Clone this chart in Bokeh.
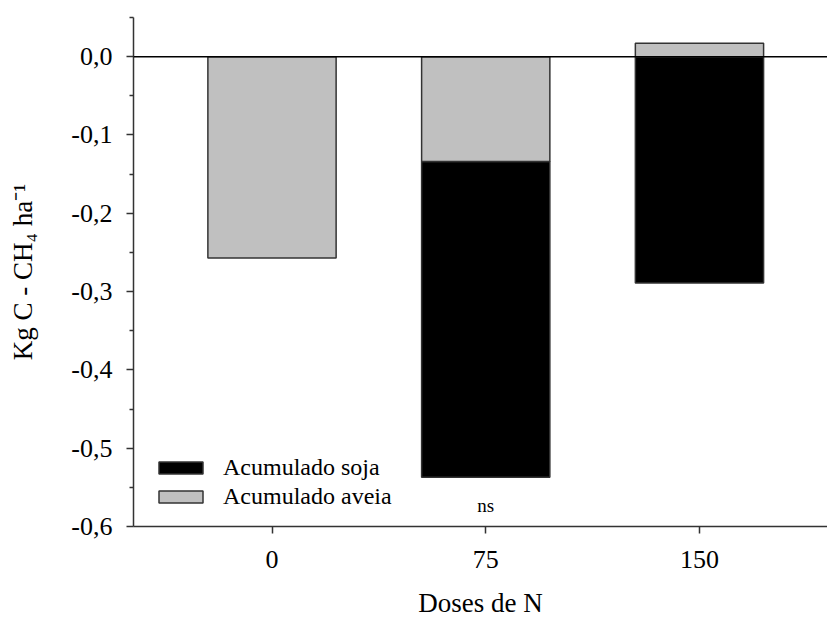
import numpy as np
from bokeh.plotting import figure
from bokeh.models import (ColumnDataSource, FixedTicker, Span, Legend, LegendItem)
from bokeh.core.properties import value
from bokeh.embed import file_html
from bokeh.resources import INLINE

# ---- data ----
doses = ["0", "75", "150"]
aveia = [-0.257, -0.134, 0.017]   # Acumulado aveia
soja = [0.0, -0.403, -0.289]      # Acumulado soja
y_ticks = [-0.6, -0.5, -0.4, -0.3, -0.2, -0.1, 0.0]
y_tick_labels = ["-0,6", "-0,5", "-0,4", "-0,3", "-0,2", "-0,1", "0,0"]
y_minor = [-0.55, -0.45, -0.35, -0.25, -0.15, -0.05, 0.05]
note_text = "ns"

FONT = "Liberation Serif"
xs = list(range(len(doses)))

# stacking (positive and negative separately; aveia first, then soja)
av_top, av_bot, so_top, so_bot, av_x, so_x = [], [], [], [], [], []
for i, (a, s) in enumerate(zip(aveia, soja)):
    pos, neg = 0.0, 0.0
    if a != 0:
        if a < 0:
            av_top.append(neg); av_bot.append(neg + a); neg += a
        else:
            av_bot.append(pos); av_top.append(pos + a); pos += a
        av_x.append(i)
    if s != 0:
        if s < 0:
            so_top.append(neg); so_bot.append(neg + s); neg += s
        else:
            so_bot.append(pos); so_top.append(pos + s); pos += s
        so_x.append(i)

p = figure(width=827, height=621, x_range=(-0.648, 2.599), y_range=(-0.6, 0.05),
           toolbar_location=None, output_backend="svg",
           min_border_left=133, min_border_right=0, min_border_top=17, min_border_bottom=95)
p.outline_line_color = None
p.xgrid.visible = False
p.ygrid.visible = False
p.background_fill_color = "white"

src_so = ColumnDataSource(dict(x=so_x, top=so_top, bottom=so_bot))
src_av = ColumnDataSource(dict(x=av_x, top=av_top, bottom=av_bot))
r_so = p.vbar(x="x", top="top", bottom="bottom", width=0.6, source=src_so,
              fill_color="black", line_color="#333333", line_width=1.5)
r_av = p.vbar(x="x", top="top", bottom="bottom", width=0.6, source=src_av,
              fill_color="#c0c0c0", line_color="#333333", line_width=1.5)

p.add_layout(Span(location=0, dimension="width", line_color="black", line_width=1.5))

# ns annotation
p.text(x=[1], y=[-0.573], text=[note_text], text_font=value(FONT), text_font_size="19px",
       text_align="center", text_baseline="middle", text_color="black")

# axes
xa = p.xaxis[0]
xa.ticker = FixedTicker(ticks=xs)
xa.major_label_overrides = {i: d for i, d in enumerate(doses)}
xa.minor_tick_line_color = None
xa.major_tick_in = 0
xa.major_tick_out = 7
xa.axis_line_color = "#333333"
xa.axis_line_width = 1.5
xa.major_tick_line_color = "#333333"
xa.major_tick_line_width = 1.5
xa.major_label_text_font = FONT
xa.major_label_text_font_size = "26px"
xa.major_label_text_color = "black"
xa.major_label_standoff = 17
xa.axis_label = "Doses de N"
xa.axis_label_text_font = FONT
xa.axis_label_text_font_size = "27px"
xa.axis_label_text_font_style = "normal"
xa.axis_label_text_color = "black"
xa.axis_label_standoff = 17

ya = p.yaxis[0]
ya.ticker = FixedTicker(ticks=y_ticks, minor_ticks=y_minor)
ya.major_label_overrides = {v: l for v, l in zip(y_ticks, y_tick_labels)}
ya.major_tick_in = 0
ya.major_tick_out = 7
ya.minor_tick_in = 0
ya.minor_tick_out = 4
ya.axis_line_color = "#333333"
ya.axis_line_width = 1.5
ya.major_tick_line_color = "#333333"
ya.major_tick_line_width = 1.5
ya.minor_tick_line_color = "#333333"
ya.minor_tick_line_width = 1.5
ya.major_label_text_font = FONT
ya.major_label_text_font_size = "26px"
ya.major_label_text_color = "black"
ya.major_label_standoff = 14
ya.axis_label = "Kg C - CH\u2084 ha\u207b\u00b9"
ya.axis_label_text_font = FONT
ya.axis_label_text_font_size = "27px"
ya.axis_label_text_font_style = "normal"
ya.axis_label_text_color = "black"
ya.axis_label_standoff = 30

legend = Legend(items=[LegendItem(label="Acumulado soja", renderers=[r_so]),
                       LegendItem(label="Acumulado aveia", renderers=[r_av])],
                location=(20, 16), padding=0, margin=0, spacing=2,
                glyph_width=55, glyph_height=15, label_standoff=15,
                label_text_font=FONT, label_text_font_size="24px",
                label_text_color="black",
                border_line_alpha=0, background_fill_alpha=0)
p.add_layout(legend)

open("out.html", "w").write(file_html(p, INLINE))
